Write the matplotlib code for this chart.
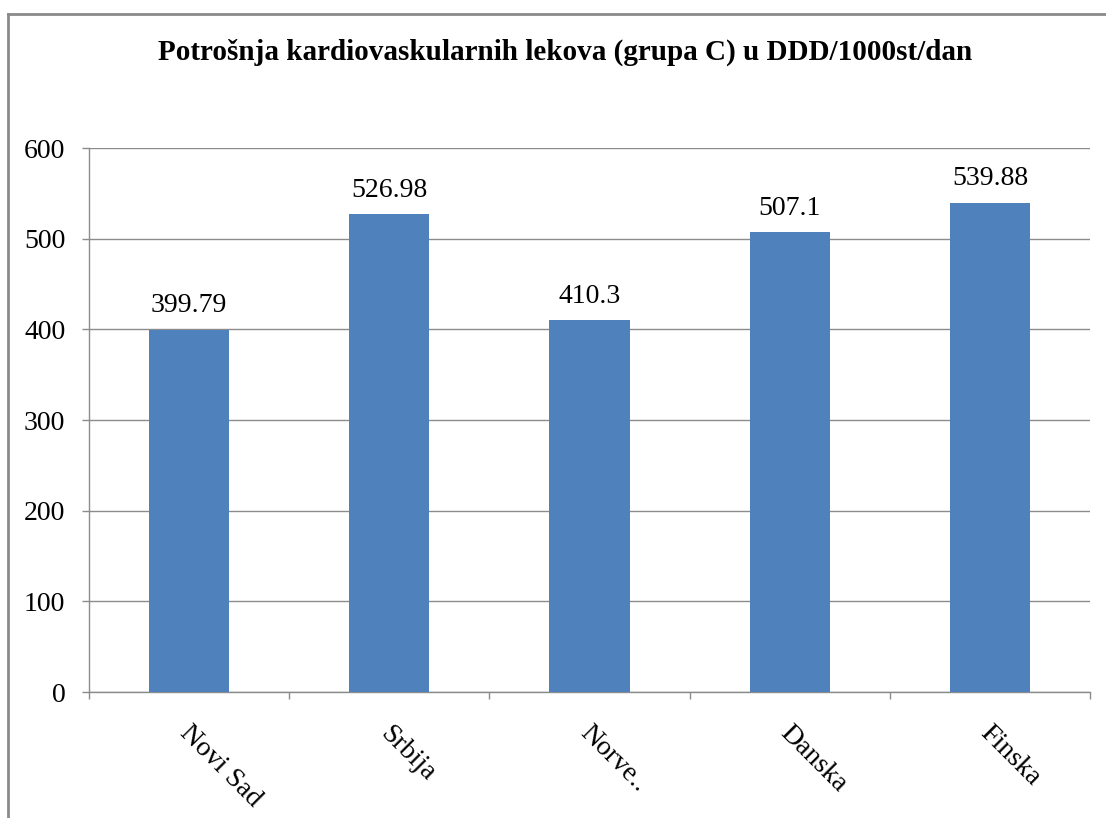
import matplotlib
matplotlib.use("Agg")
import matplotlib.pyplot as plt
from matplotlib.lines import Line2D

categories = ["Novi Sad", "Srbija", "Norve..", "Danska", "Finska"]
values = [399.79, 526.98, 410.3, 507.1, 539.88]
value_labels = ["399.79", "526.98", "410.3", "507.1", "539.88"]
yticks = [0, 100, 200, 300, 400, 500, 600]

plt.rcParams['font.family'] = ['Liberation Serif', 'DejaVu Serif']

W, H = 1106, 818
fig = plt.figure(figsize=(W / 100, H / 100), dpi=100)
ax = fig.add_axes([89 / W, 1 - 692 / H, (1090 - 89) / W, (692 - 148) / H])

x = list(range(len(categories)))
bar_color = "#4F81BD"
ax.bar(x, values, width=0.4, color=bar_color, zorder=3)
for xi, v, lab in zip(x, values, value_labels):
    ax.annotate(lab, (xi, v), xytext=(0, 8), textcoords="offset points",
                ha="center", va="bottom", fontsize=20)

ax.set_xlim(-0.5, len(categories) - 0.5)
ax.set_ylim(0, 600)
ax.set_yticks(yticks)
ax.set_yticklabels([str(t) for t in yticks], fontsize=20)
ax.yaxis.grid(True, color="#8c8c8c", linewidth=1.0, zorder=0)
ax.set_axisbelow(True)

ax.set_xticks([i - 0.5 for i in range(len(categories) + 1)], minor=False)
ax.set_xticklabels([])
ax.tick_params(axis="x", length=5, color="#8c8c8c", width=1.0)
ax.tick_params(axis="y", length=5, color="#8c8c8c", width=1.0, pad=12)

for xi, cat in zip(x, categories):
    ax.text(xi + 0.015, -0.053, cat, transform=ax.get_xaxis_transform(),
            rotation=-45, rotation_mode="anchor", ha="left", va="top",
            fontsize=20)

for s in ["top", "right"]:
    ax.spines[s].set_visible(False)
for s in ["left", "bottom"]:
    ax.spines[s].set_color("#8c8c8c")
    ax.spines[s].set_linewidth(1.0)

fig.text(565 / W, 1 - 52 / H, "Potrošnja kardiovaskularnih lekova (grupa C) u DDD/1000st/dan",
         ha="center", va="center", fontsize=21, fontweight="bold")

fig.add_artist(Line2D([8 / W, 8 / W], [0, 1 - 14 / H], transform=fig.transFigure,
                      color="#8a8a8a", linewidth=2))
fig.add_artist(Line2D([8 / W, 1], [1 - 14 / H, 1 - 14 / H], transform=fig.transFigure,
                      color="#8a8a8a", linewidth=2))

fig.savefig("out.png", dpi=100, facecolor="white")
